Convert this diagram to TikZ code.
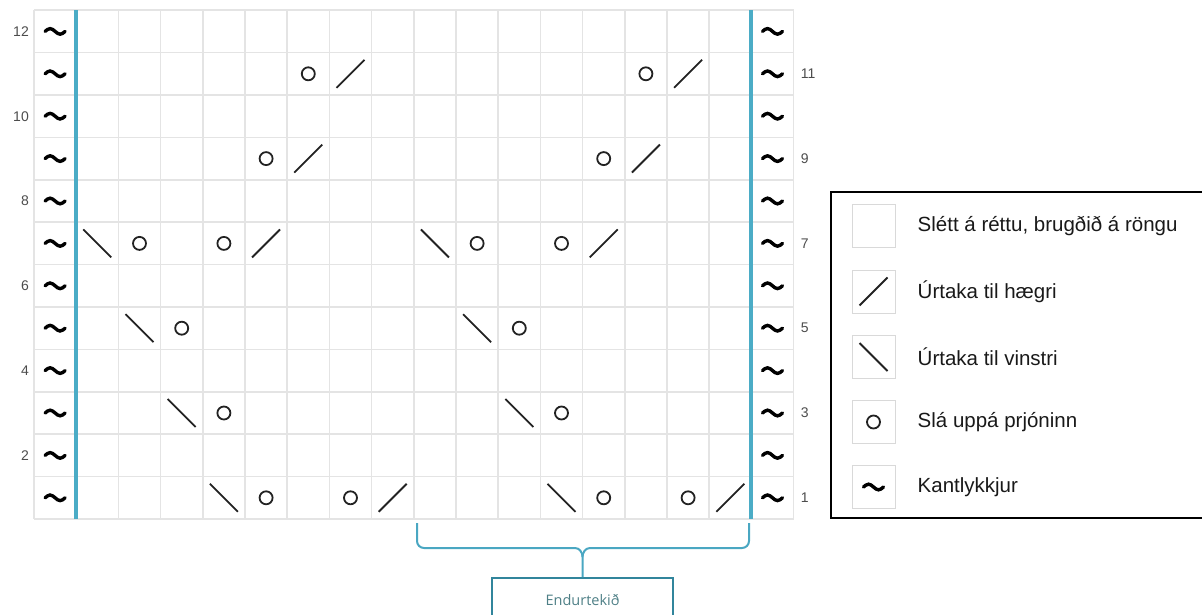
\documentclass[tikz,border=0pt]{standalone}
\usepackage{fontspec}
\setmainfont{Liberation Sans}
\newfontfamily\boxfont{Open Sans}
\usepackage{tikz}
\usetikzlibrary{positioning}
\usepackage{xcolor}
\definecolor{barblue}{HTML}{4BACC6}
\definecolor{bracecol}{HTML}{4AA7C2}
\definecolor{boxedge}{HTML}{31859C}
\definecolor{boxtext}{HTML}{4E7F86}
\definecolor{gridgray}{HTML}{E4E4E4}
\definecolor{symcol}{HTML}{222222}

\begin{document}
\begin{tikzpicture}[x=1pt,y=-1pt,
  gridline/.style={gridgray, line width=1.6pt},
  sym/.style={symcol, line width=1.8pt},
  tilde/.style={black, line width=3.4pt, line cap=round},
  rownum/.style={inner sep=0pt, text=black!70, font=\fontsize{14}{16}\selectfont},
  legbox/.style={draw=black!15, line width=1pt, minimum size=43pt, inner sep=0pt},
  legtxt/.style={inner sep=0pt, anchor=west, text=black!90, font=\fontsize{20.5}{22}\selectfont},
  brace/.style={bracecol, line width=2pt}]
\useasboundingbox (0,0) rectangle (1202,615);

% chart, one unit per stitch, rows counted from the bottom
\begin{scope}[shift={(34pt,-519pt)}, x=42.2pt, y=42.4pt]
\foreach \i in {0,...,18} \draw[gridline] (\i,0) -- (\i,12);
\foreach \j in {0,...,12} \draw[gridline] (0,\j) -- (18,\j);
\foreach \c/\r in {2/7,10/7,3/5,11/5,4/3,12/3,5/1,13/1} \draw[sym] (\c-0.5,\r-0.5) ++(-14pt,14pt) -- ++(28pt,-28pt);
\foreach \c/\r in {6/7,14/7,9/1,17/1,7/9,15/9,8/11,16/11} \draw[sym] (\c-0.5,\r-0.5) ++(-14pt,-14pt) -- ++(28pt,28pt);
\foreach \c/\r in {3/7,5/7,11/7,13/7,4/5,12/5,5/3,13/3,6/1,8/1,14/1,16/1,6/9,14/9,7/11,15/11} \draw[sym] (\c-0.5,\r-0.5) circle[radius=6.5pt];
\foreach \c in {0.5,17.5} \foreach \r in {1,...,12}
  \draw[tilde] (\c,\r-0.5) ++(-10pt,0pt) sin ++(5pt,2.8pt) cos ++(5pt,-2.8pt) sin ++(5pt,-2.8pt) cos ++(5pt,2.8pt);
\draw[barblue, line width=4pt] (1,0) -- (1,12);
\draw[barblue, line width=4pt] (17,0) -- (17,12);
\foreach \r in {2,4,...,12} \node[rownum, anchor=east] (n\r) at ([xshift=-5pt]0,\r-0.5) {\r};
\foreach \r in {1,3,...,11} \node[rownum, anchor=west] (n\r) at ([xshift=7pt]18,\r-0.5) {\r};
\end{scope}

% legend
\draw[black, line width=2pt] (831,192) rectangle (1215,518);
\node[legbox] (k1) at (873.5,226) {};
\node[legbox] (k2) at (873.5,291.5) {};
\node[legbox] (k3) at (873.5,357) {};
\node[legbox] (k4) at (873.5,422) {};
\node[legbox] (k5) at (873.5,487) {};
\node[legtxt, right=22pt of k1] (t1) {Slétt á réttu, brugðið á röngu};
\node[legtxt, right=22pt of k2] (t2) {Úrtaka til hægri};
\node[legtxt, right=22pt of k3] (t3) {Úrtaka til vinstri};
\node[legtxt, right=22pt of k4] (t4) {Slá uppá prjóninn};
\node[legtxt, right=22pt of k5] (t5) {Kantlykkjur};
\draw[sym] (k2.center) ++(-14pt,-14pt) -- ++(28pt,28pt);
\draw[sym] (k3.center) ++(-14pt,14pt) -- ++(28pt,-28pt);
\draw[sym] (k4.center) circle[radius=6.5pt];
\draw[tilde] (k5.center) ++(-10pt,0pt) sin ++(5pt,2.8pt) cos ++(5pt,-2.8pt) sin ++(5pt,-2.8pt) cos ++(5pt,2.8pt);

% repeat bracket
\node[draw=boxedge, line width=2pt, minimum width=181pt, minimum height=45pt, inner sep=0pt, text=boxtext, font=\boxfont\fontsize{14.5}{16}\selectfont] (rep) at (582.5,600.5) {Endurtekið};
\coordinate (bl) at (417,523);
\coordinate (br) at (749,523);
\draw[brace] (bl) -- (417,541) to[out=-90,in=180] (424,548) -- (575,548) to[out=0,in=90] (582.5,557) -- (rep.north);
\draw[brace] (br) -- (749,541) to[out=-90,in=0] (742,548) -- (590,548) to[out=180,in=90] (582.5,557);
\end{tikzpicture}
\end{document}
